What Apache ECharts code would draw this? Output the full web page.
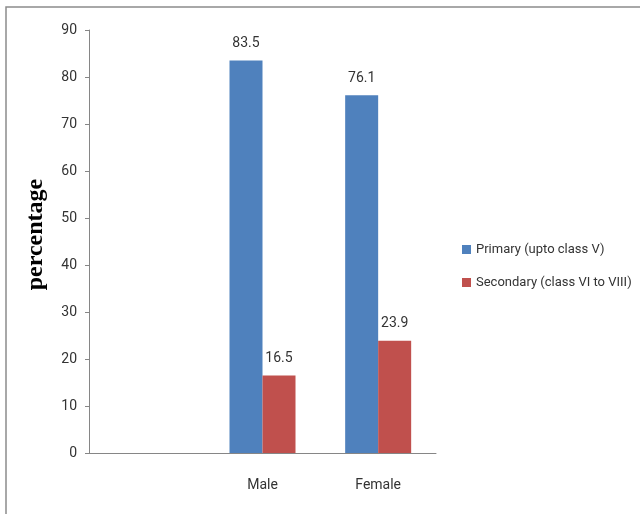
<!DOCTYPE html>
<html>
<head>
    <meta charset="utf-8">
    <title>ECharts</title>
    <script src="https://cdn.jsdelivr.net/npm/echarts@6/dist/echarts.min.js"></script>
</head>
<body style="margin:0;">
<div id="main" style="width: 640px;height:514px;"></div>
<script type="text/javascript">
    // data
    var categories = ['', 'Male', 'Female'];
    var seriesNames = ['Primary (upto class V)', 'Secondary (class VI to VIII)'];
    var primary = ['-', 83.5, 76.1];
    var secondary = ['-', 16.5, 23.9];
    var yTicks = { min: 0, max: 90, interval: 10 };

    var txtFont = 'Roboto, sans-serif';

    var chart = echarts.init(document.getElementById('main'));
    chart.setOption({
        backgroundColor: '#fff',
        animation: false,
        graphic: [{
            type: 'rect',
            shape: { x: 6, y: 7, width: 700, height: 600 },
            style: { fill: 'none', stroke: '#8c8c8c', lineWidth: 1.5 }
        }],
        legend: {
            orient: 'vertical',
            left: 457,
            top: 238,
            itemGap: 20,
            itemWidth: 9,
            itemHeight: 9,
            icon: 'rect',
            textStyle: { fontFamily: txtFont, fontSize: 13, color: '#333' },
            data: seriesNames
        },
        grid: { left: 89, top: 30, width: 347, height: 423 },
        xAxis: {
            type: 'category',
            data: categories,
            axisLine: { lineStyle: { color: '#868686' } },
            axisTick: { show: false },
            axisLabel: { margin: 25, fontFamily: txtFont, fontSize: 14, color: '#333' }
        },
        yAxis: {
            type: 'value',
            min: yTicks.min,
            max: yTicks.max,
            interval: yTicks.interval,
            name: 'percentage',
            nameLocation: 'middle',
            nameGap: 41,
            nameRotate: 90,
            nameTextStyle: { fontFamily: '"Liberation Serif", serif', fontWeight: 'bold', fontSize: 24, color: '#000', padding: [0, 0, 0, 14] },
            splitLine: { show: false },
            axisLine: { show: true, lineStyle: { color: '#868686' } },
            axisTick: { show: true, length: 4, lineStyle: { color: '#868686' } },
            axisLabel: { margin: 12, fontFamily: txtFont, fontSize: 14, color: '#333' }
        },
        series: [{
            name: seriesNames[0],
            type: 'bar',
            data: primary,
            barWidth: 33,
            barGap: '0%',
            itemStyle: { color: '#4f81bd' },
            label: { show: true, position: 'top', distance: 10, fontFamily: txtFont, fontSize: 14, color: '#333' }
        }, {
            name: seriesNames[1],
            type: 'bar',
            data: secondary,
            barWidth: 33,
            barGap: '0%',
            itemStyle: { color: '#c0504d' },
            label: { show: true, position: 'top', distance: 10, fontFamily: txtFont, fontSize: 14, color: '#333' }
        }]
    });
</script>
</body>
</html>
